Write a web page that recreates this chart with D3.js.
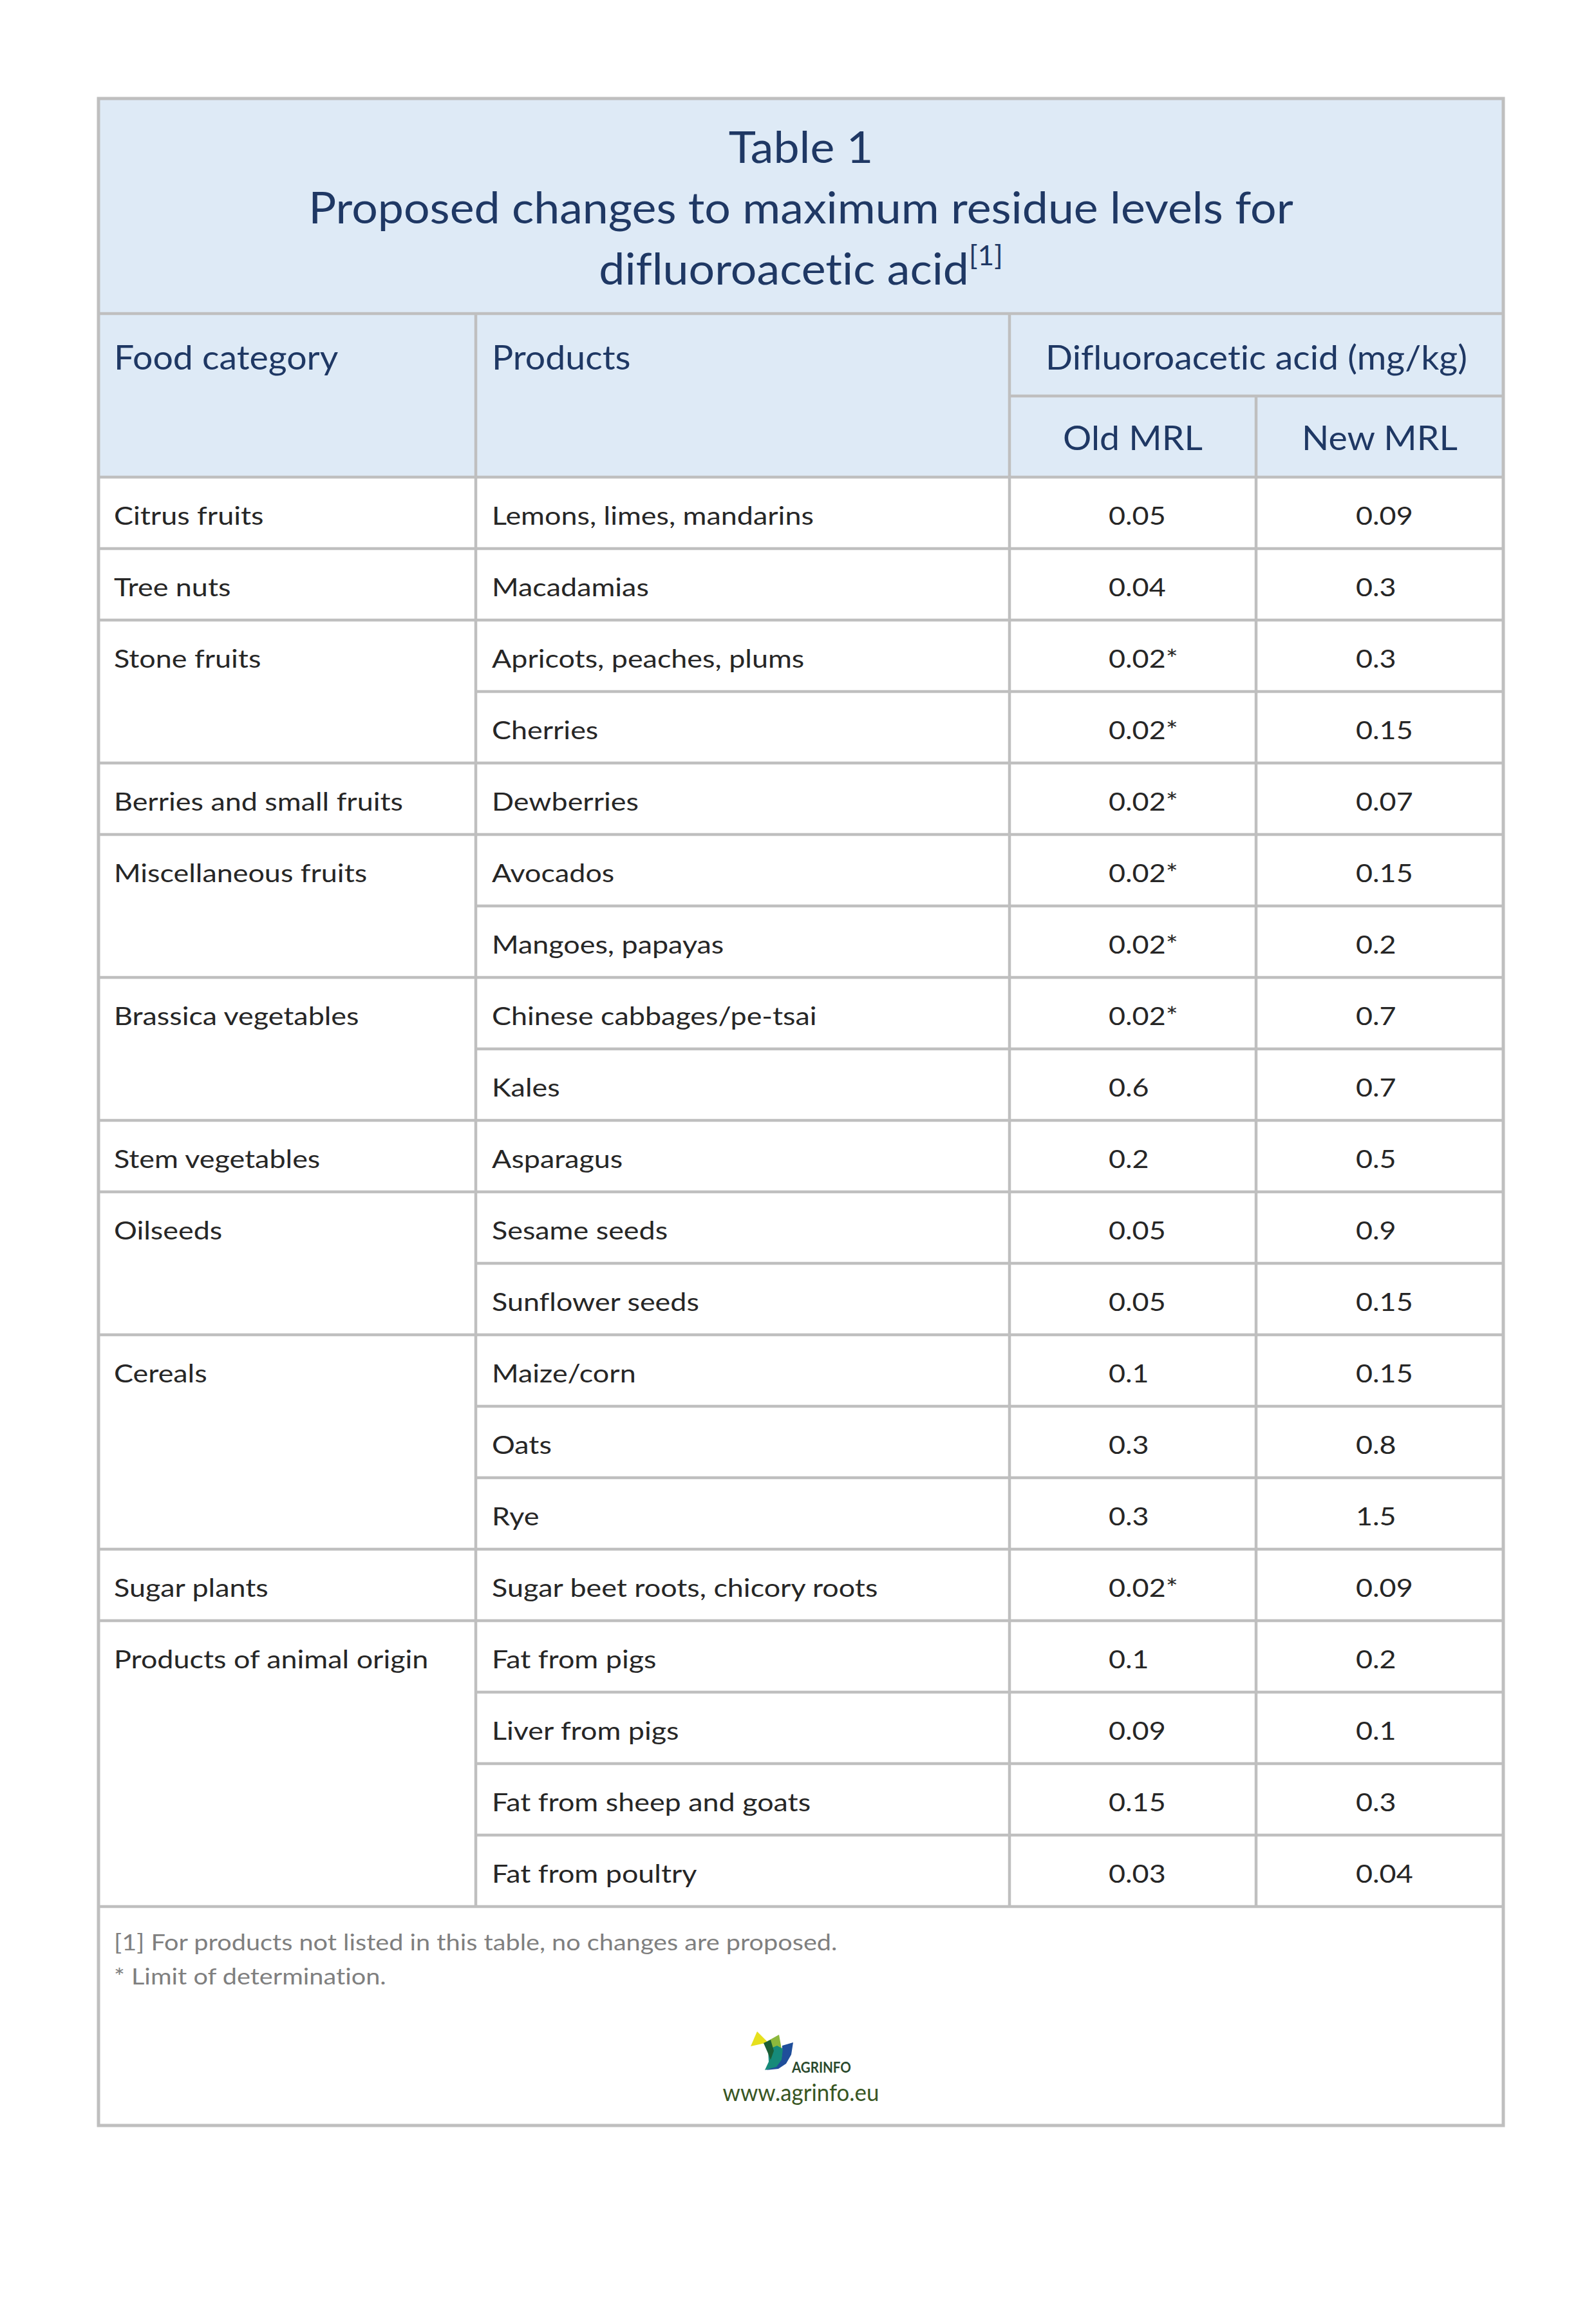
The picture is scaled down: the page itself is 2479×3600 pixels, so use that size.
<!DOCTYPE html>
<html>
<head>
<meta charset="utf-8">
<script src="https://cdn.jsdelivr.net/npm/d3@7"></script>
<style>
  html, body { margin: 0; padding: 0; background: #ffffff; }
  svg { display: block; }
  text { font-variant-ligatures: none; font-feature-settings: "liga" 0, "clig" 0; }
</style>
</head>
<body>
<script>
// ---------------- DATA ----------------
const titleLines = ["Table 1", "Proposed changes to maximum residue levels for", "difluoroacetic acid"];
const titleNote = "[1]";
const headerLabels = ["Food category", "Products", "Difluoroacetic acid (mg/kg)"];
const subHeaderLabels = ["Old MRL", "New MRL"];
const categories = ["Citrus fruits", "Tree nuts", "Stone fruits", "Berries and small fruits",
  "Miscellaneous fruits", "Brassica vegetables", "Stem vegetables", "Oilseeds", "Cereals",
  "Sugar plants", "Products of animal origin"];
const products = ["Lemons, limes, mandarins", "Macadamias", "Apricots, peaches, plums", "Cherries",
  "Dewberries", "Avocados", "Mangoes, papayas", "Chinese cabbages/pe-tsai", "Kales", "Asparagus",
  "Sesame seeds", "Sunflower seeds", "Maize/corn", "Oats", "Rye", "Sugar beet roots, chicory roots",
  "Fat from pigs", "Liver from pigs", "Fat from sheep and goats", "Fat from poultry"];
const productCategory = [0, 1, 2, 2, 3, 4, 4, 5, 5, 6, 7, 7, 8, 8, 8, 9, 10, 10, 10, 10];
const oldMRL = [0.05, 0.04, 0.02, 0.02, 0.02, 0.02, 0.02, 0.02, 0.6, 0.2, 0.05, 0.05, 0.1, 0.3, 0.3, 0.02, 0.1, 0.09, 0.15, 0.03];
const oldIsLOD = [false, false, true, true, true, true, true, true, false, false, false, false, false, false, false, true, false, false, false, false];
const newMRL = [0.09, 0.3, 0.3, 0.15, 0.07, 0.15, 0.2, 0.7, 0.7, 0.5, 0.9, 0.15, 0.15, 0.8, 1.5, 0.09, 0.2, 0.1, 0.3, 0.04];
const footnotes = ["[1] For products not listed in this table, no changes are proposed.", "* Limit of determination."];
const logoText = "AGRINFO";
const urlText = "www.agrinfo.eu";

// ---------------- LAYOUT ----------------
const W = 2479, H = 3600;
const FONT = "Lato, 'Open Sans', sans-serif";
const C = {
  headBg: "#DEEAF6", navy: "#1F3864", body: "#262626", grey: "#7F7F7F",
  line: "#BFBFBF", url: "#385623", logoTxt: "#2B4A2E"
};
const colEdges = [153, 739, 1568, 1951, 2335];
const topY = 153, titleBottom = 487, subSplit = 615, headBottom = 741, rowsBottom = 2961, bottomY = 3301;

const svg = d3.select("body").append("svg").attr("width", W).attr("height", H)
  .style("font-family", FONT);
svg.append("rect").attr("width", W).attr("height", H).attr("fill", "#fff");

const yRow = d3.scaleBand().domain(d3.range(products.length)).range([headBottom, rowsBottom]).paddingInner(0).paddingOuter(0);

// measurement helper for horizontal condensing to match reference text widths
const tmp = svg.append("text").attr("x", -5000).attr("y", -5000);
function fitK(str, size, target, weight) {
  tmp.attr("font-size", size).attr("font-weight", weight || 400).text(str);
  return target / tmp.node().getComputedTextLength();
}
const S = {
  title:  { size: 68, k: fitK(titleLines[1], 68, 1530), fill: C.navy },
  head:   { size: 52, k: fitK(headerLabels[2], 52, 655), fill: C.navy },
  body:   { size: 39, k: fitK(products[0], 39, 500), fill: C.body },
  foot:   { size: 35, k: fitK(footnotes[0], 35, 1124), fill: C.grey },
  url:    { size: 36, k: fitK(urlText, 36, 243), fill: C.url },
  logo:   { size: 22, k: fitK(logoText, 22, 92, 700), fill: C.logoTxt, weight: 700 }
};
tmp.remove();

function addText(parent, str, x, yy, st, anchor) {
  return parent.append("text")
    .attr("transform", `translate(${x},${yy}) scale(${st.k},1)`)
    .attr("font-size", st.size)
    .attr("font-weight", st.weight || 400)
    .attr("fill", st.fill)
    .attr("text-anchor", anchor || "start")
    .text(str);
}

// ---------------- BACKGROUNDS ----------------
svg.append("rect").attr("x", colEdges[0]).attr("y", topY)
  .attr("width", colEdges[4] - colEdges[0]).attr("height", headBottom - topY)
  .attr("fill", C.headBg);

// ---------------- TITLE ----------------
const cx = (colEdges[0] + colEdges[4]) / 2;
const titleBase = [253, 347, 442];
addText(svg, titleLines[0], cx, titleBase[0], S.title, "middle");
addText(svg, titleLines[1], cx, titleBase[1], S.title, "middle");
const t3 = addText(svg, titleLines[2], cx, titleBase[2], S.title, "middle");
t3.append("tspan").attr("font-size", 42).attr("dy", -30).text(titleNote);

// ---------------- HEADER ----------------
const hdrBase = 574, subBase = 699;
addText(svg, headerLabels[0], colEdges[0] + 24, hdrBase, S.head);
addText(svg, headerLabels[1], colEdges[1] + 25, hdrBase, S.head);
addText(svg, headerLabels[2], (colEdges[2] + colEdges[4]) / 2, hdrBase, S.head, "middle");
subHeaderLabels.forEach((s, i) =>
  addText(svg, s, (colEdges[2 + i] + colEdges[3 + i]) / 2, subBase, S.head, "middle"));

// ---------------- BODY ROWS ----------------
const rowsG = svg.append("g");
const rowG = rowsG.selectAll("g").data(d3.range(products.length)).join("g");
const base = i => yRow(i) + 74;
rowG.each(function (i) {
  const g = d3.select(this);
  if (i === 0 || productCategory[i] !== productCategory[i - 1]) {
    addText(g, categories[productCategory[i]], colEdges[0] + 24, base(i), S.body);
  }
  addText(g, products[i], colEdges[1] + 25, base(i), S.body);
  addText(g, String(oldMRL[i]) + (oldIsLOD[i] ? "*" : ""), colEdges[2] + 154, base(i), S.body);
  addText(g, String(newMRL[i]), colEdges[3] + 155, base(i), S.body);
});

// ---------------- GRID LINES ----------------
const linesG = svg.append("g").attr("stroke", C.line).attr("stroke-width", 4.5).attr("fill", "none");
const hl = (x1, x2, yy) => linesG.append("line").attr("x1", x1).attr("x2", x2).attr("y1", yy).attr("y2", yy);
const vl = (x, y1, y2) => linesG.append("line").attr("x1", x).attr("x2", x).attr("y1", y1).attr("y2", y2);
hl(colEdges[0], colEdges[4], titleBottom);
hl(colEdges[2], colEdges[4], subSplit);
hl(colEdges[0], colEdges[4], headBottom);
d3.range(1, products.length).forEach(i => {
  const newCat = productCategory[i] !== productCategory[i - 1];
  hl(newCat ? colEdges[0] : colEdges[1], colEdges[4], yRow(i));
});
hl(colEdges[0], colEdges[4], rowsBottom);
vl(colEdges[1], titleBottom, rowsBottom);
vl(colEdges[2], titleBottom, rowsBottom);
vl(colEdges[3], subSplit, rowsBottom);
svg.append("rect").attr("x", colEdges[0]).attr("y", topY)
  .attr("width", colEdges[4] - colEdges[0]).attr("height", bottomY - topY)
  .attr("fill", "none").attr("stroke", C.line).attr("stroke-width", 5);

// ---------------- FOOTNOTES ----------------
addText(svg, footnotes[0], colEdges[0] + 24, 3029, S.foot);
addText(svg, footnotes[1], colEdges[0] + 24, 3082, S.foot);

// ---------------- LOGO ----------------
const logo = svg.append("g").attr("transform", "translate(1165,3155)");
const shape = (pts, fill) => logo.append("path").attr("d", d3.line()(pts) + "Z").attr("fill", fill);
shape([[1, 23], [11, 0], [28, 17]], "#E6E01E");
shape([[27, 15], [45, 5], [49, 27], [38, 30]], "#8DB83C");
shape([[50, 22], [67, 17], [64, 36], [56, 50], [44, 58], [25, 60], [40, 52], [49, 40]], "#1F4E9A");
shape([[28, 28], [42, 22], [51, 27], [49, 44], [41, 55], [23, 60], [29, 47]], "#168A7A");
shape([[21, 18], [32, 13], [37, 30], [32, 44], [28, 34]], "#1B5E35");
addText(svg, logoText, 1230, 3219, S.logo);
addText(svg, urlText, 1244, 3263, S.url, "middle");
</script>
</body>
</html>
